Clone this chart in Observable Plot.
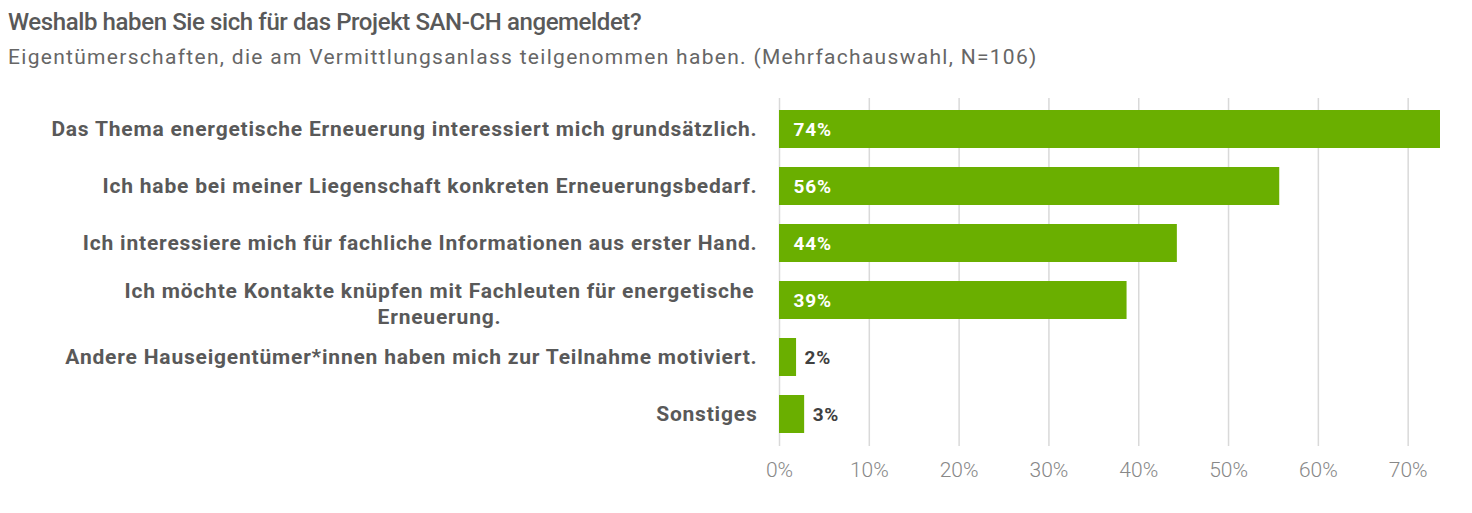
<!DOCTYPE html>
<html>
<head>
<meta charset="utf-8">
<script src="https://cdn.jsdelivr.net/npm/d3@7"></script>
<script src="https://cdn.jsdelivr.net/npm/@observablehq/plot@0.6"></script>
<style>
  html, body { margin: 0; padding: 0; background: #fff; }
  body { width: 1472px; height: 513px; overflow: hidden; font-family: Roboto, "Noto Sans", sans-serif; }
  #head { height: 80px; position: relative; }
  #title { position: absolute; left: 8px; top: 8px; font-size: 24px; color: #595959; font-weight: 500; white-space: nowrap; letter-spacing: -0.4px; }
  #subtitle { position: absolute; left: 8px; top: 45px; font-size: 21px; color: #666; font-weight: 400; white-space: nowrap; letter-spacing: 1.3px; }
  #chart svg { display: block; }
  #chart svg g[aria-label="text"] text { letter-spacing: 0.8px; }
</style>
</head>
<body>
<div id="head">
  <div id="title">Weshalb haben Sie sich für das Projekt SAN-CH angemeldet?</div>
  <div id="subtitle">Eigentümerschaften, die am Vermittlungsanlass teilgenommen haben. (Mehrfachauswahl, N=106)</div>
</div>
<div id="chart"></div>
<script>
const categories = [
  "Das Thema energetische Erneuerung interessiert mich grundsätzlich.",
  "Ich habe bei meiner Liegenschaft konkreten Erneuerungsbedarf.",
  "Ich interessiere mich für fachliche Informationen aus erster Hand.",
  "Ich möchte Kontakte knüpfen mit Fachleuten für energetische\nErneuerung.",
  "Andere Hauseigentümer*innen haben mich zur Teilnahme motiviert.",
  "Sonstiges"
];
const values = [73.6, 55.7, 44.3, 38.7, 1.9, 2.8];
const valueLabels = ["74%", "56%", "44%", "39%", "2%", "3%"];
const xTicks = [0, 10, 20, 30, 40, 50, 60, 70];

const data = categories.map((c, i) => ({cat: c, value: values[i], label: valueLabels[i]}));
const inside = data.filter(d => d.value >= 10);
const outside = data.filter(d => d.value < 10);
const single = data.filter(d => !d.cat.includes("\n"));
const wrapped = data.filter(d => d.cat.includes("\n"));

const labelSize = 21;
const labelSpacing = 0.8;
const ctx = document.createElement("canvas").getContext("2d");
ctx.font = `bold ${labelSize}px Roboto`;
function measure(s) { return ctx.measureText(s).width + s.length * labelSpacing; }
const wrapDx = wrapped.length ? -22 - measure(wrapped[0].cat.split("\n")[0] + " ") / 2 : 0;

const green = "#6aaf00";
const textGray = "#595959";

const chart = Plot.plot({
  width: 1472,
  height: 433,
  marginLeft: 779,
  marginRight: 32,
  marginTop: 18,
  marginBottom: 67,
  style: {fontFamily: "Roboto, sans-serif", background: "white"},
  x: {domain: [0, 73.6], ticks: xTicks, tickFormat: d => d + "%", label: null},
  y: {domain: categories, paddingInner: 0.33, paddingOuter: 0.207, label: null, axis: null},
  marks: [
    Plot.gridX(xTicks, {stroke: "#d9d9d9", strokeOpacity: 1, strokeWidth: 1.5}),
    Plot.barX(data, {x: "value", y: "cat", fill: green}),
    Plot.text(inside, {x: 0, y: "cat", text: "label", textAnchor: "start", dx: 14, fill: "white", fontWeight: "bold", fontSize: 19}),
    Plot.text(outside, {x: "value", y: "cat", text: "label", textAnchor: "start", dx: 8, fill: "#404040", fontWeight: "bold", fontSize: 19}),
    Plot.text(single, {frameAnchor: "left", y: "cat", text: "cat", textAnchor: "end", dx: -22, fill: textGray, fontWeight: "bold", fontSize: labelSize}),
    Plot.text(wrapped, {frameAnchor: "left", y: "cat", text: "cat", textAnchor: "middle", dx: wrapDx, dy: 2, lineHeight: 1.24, fill: textGray, fontWeight: "bold", fontSize: labelSize}),
    Plot.axisX({ticks: xTicks, tickFormat: d => d + "%", tickSize: 0, tickPadding: 16, fontSize: 21, fill: "#888", fontWeight: 300, label: null})
  ]
});
document.getElementById("chart").append(chart);
</script>
</body>
</html>
